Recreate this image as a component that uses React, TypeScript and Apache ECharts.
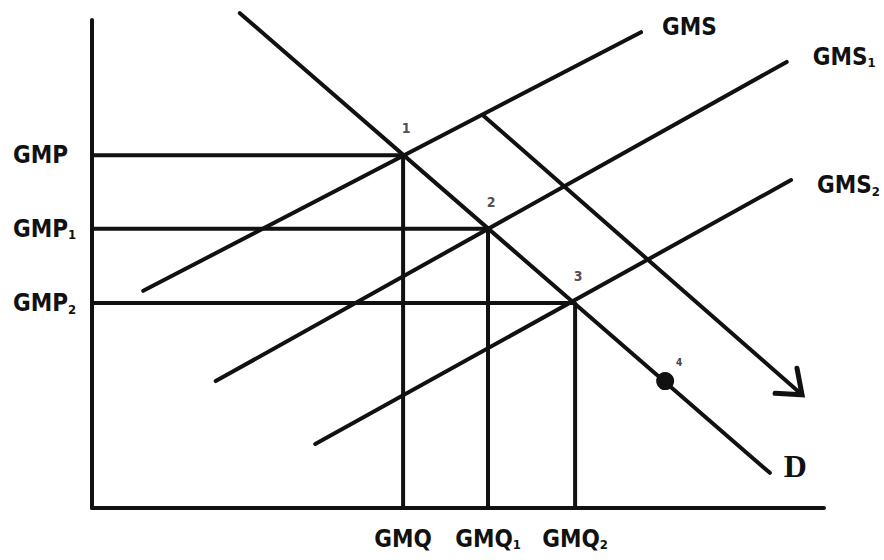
import React, { useEffect, useRef } from "react";
import * as echarts from "echarts";

// Equilibrium quantities and prices (points 1, 2, 3)
const eqQuantity = [42.5, 54.1, 66.0];
const eqPrice = [72.3, 57.2, 42.0];
const quantityLabels = [["GMQ", ""], ["GMQ", "1"], ["GMQ", "2"]];
const priceLabels = [["GMP", ""], ["GMP", "1"], ["GMP", "2"]];
const pointLabels = ["1", "2", "3"];

// Curves (start, end) in quantity / price units
const demandCurve = [[20.2, 101.4], [92.6, 7.2]];
const supplyGMS = [[7.0, 44.5], [75.0, 97.5]];
const supplyGMS1 = [[16.9, 26.0], [94.9, 91.4]];
const supplyGMS2 = [[30.5, 13.1], [95.5, 67.2]];
const shiftArrow = [53.4, 80.5, 97.0, 23.2];
const point4 = [78.3, 26.0];

const FONT = "'DejaVu Sans Condensed', 'DejaVu Sans', sans-serif";
const INK = "#111";

const rich = {
  a: { fontFamily: FONT, fontWeight: "bold", fontSize: 24, lineHeight: 25, color: INK },
  s: { fontFamily: FONT, fontWeight: "bold", fontSize: 13, lineHeight: 13, verticalAlign: "bottom", color: INK },
};

const fmt = (pair: string[]) => (pair[1] ? `{a|${pair[0]}}{s|${pair[1]}}` : `{a|${pair[0]}}`);

const findIdx = (arr: number[], v: number) => arr.findIndex((x) => Math.abs(x - v) < 1e-6);

export default function App() {
  const ref = useRef<HTMLDivElement>(null);
  useEffect(() => {
    if (!ref.current) return;
    const chart = echarts.init(ref.current, undefined, { renderer: "svg" });
    const lineStyle = { color: INK, width: 4, cap: "round" as const };
    const curve = (name: string, data: number[][], labelText: string, distance: number, offset: number[], extra: any = {}) => ({
      type: "line",
      name,
      data,
      showSymbol: false,
      symbol: "none",
      clip: false,
      silent: true,
      lineStyle,
      endLabel: {
        show: true,
        formatter: () => labelText,
        distance,
        offset,
        rich,
        ...extra,
      },
    });
    const dropLines = eqQuantity.map((q, i) => ({
      type: "line",
      data: [[0, eqPrice[i]], [q, eqPrice[i]], [q, 0]],
      showSymbol: false,
      symbol: "none",
      clip: false,
      silent: true,
      lineStyle: { color: INK, width: 4, cap: "butt" },
    }));
    chart.setOption({
      animation: false,
      backgroundColor: "#fff",
      grid: { left: 92, top: 20, right: 60, bottom: 52 },
      xAxis: {
        type: "value",
        min: 0,
        max: 100,
        splitLine: { show: false },
        axisTick: { show: false },
        axisLine: { show: true, onZero: false, lineStyle: { color: INK, width: 4 } },
        axisLabel: {
          customValues: eqQuantity,
          margin: 18,
          formatter: (v: number) => fmt(quantityLabels[findIdx(eqQuantity, v)] || ["", ""]),
          rich,
        },
      },
      yAxis: {
        type: "value",
        min: 0,
        max: 100,
        splitLine: { show: false },
        axisTick: { show: false },
        axisLine: { show: true, onZero: false, lineStyle: { color: INK, width: 4 } },
        axisLabel: {
          customValues: eqPrice,
          margin: 79,
          align: "left",
          formatter: (v: number) => fmt(priceLabels[findIdx(eqPrice, v)] || ["", ""]),
          rich,
        },
      },
      series: [
        ...dropLines,
        curve("GMS", supplyGMS, "{a|GMS}", 21, [0, -5]),
        curve("GMS1", supplyGMS1, "{a|GMS}{s|1}", 26, [0, -5]),
        curve("GMS2", supplyGMS2, "{a|GMS}{s|2}", 26, [0, 5]),
        curve("D", demandCurve, "D", 14, [0, -7], {
          fontFamily: "'Liberation Serif', serif",
          fontWeight: "bold",
          fontSize: 32,
          color: INK,
        }),
        {
          type: "custom",
          coordinateSystem: "cartesian2d",
          clip: false,
          silent: true,
          data: [shiftArrow],
          encode: { x: [0, 2], y: [1, 3] },
          renderItem: (params: any, api: any) => {
            const a = api.coord([api.value(0), api.value(1)]);
            const b = api.coord([api.value(2), api.value(3)]);
            const ang = Math.atan2(b[1] - a[1], b[0] - a[0]) + Math.PI;
            const arm = 27;
            const spread = (38 * Math.PI) / 180;
            const p1 = [b[0] + arm * Math.cos(ang - spread), b[1] + arm * Math.sin(ang - spread)];
            const p2 = [b[0] + arm * Math.cos(ang + spread), b[1] + arm * Math.sin(ang + spread)];
            return {
              type: "group",
              children: [
                { type: "line", shape: { x1: a[0], y1: a[1], x2: b[0], y2: b[1] }, style: { stroke: INK, lineWidth: 4, lineCap: "round" } },
                { type: "polyline", shape: { points: [p1, b, p2] }, style: { stroke: INK, fill: null, lineWidth: 5, lineJoin: "miter", lineCap: "round" } },
              ],
            };
          },
        },
        {
          type: "scatter",
          silent: true,
          clip: false,
          symbolSize: 1,
          itemStyle: { color: "rgba(0,0,0,0)" },
          data: eqQuantity.map((q, i) => [q, eqPrice[i]]),
          label: {
            show: true,
            position: "inside",
            offset: [3, -27],
            formatter: (p: any) => pointLabels[p.dataIndex],
            fontFamily: FONT,
            fontWeight: "bold",
            fontSize: 14,
            color: "#222",
          },
        },
        {
          type: "scatter",
          silent: true,
          clip: false,
          symbolSize: 18,
          itemStyle: { color: INK, opacity: 1 },
          data: [point4],
          label: {
            show: true,
            position: "inside",
            offset: [14, -19],
            formatter: "4",
            fontFamily: FONT,
            fontWeight: "bold",
            fontSize: 10,
            color: "#444",
          },
        },
      ],
    });
    return () => chart.dispose();
  }, []);
  return <div ref={ref} style={{ position: "fixed", left: 0, top: 0, width: 884, height: 560, background: "#fff" }} />;
}
